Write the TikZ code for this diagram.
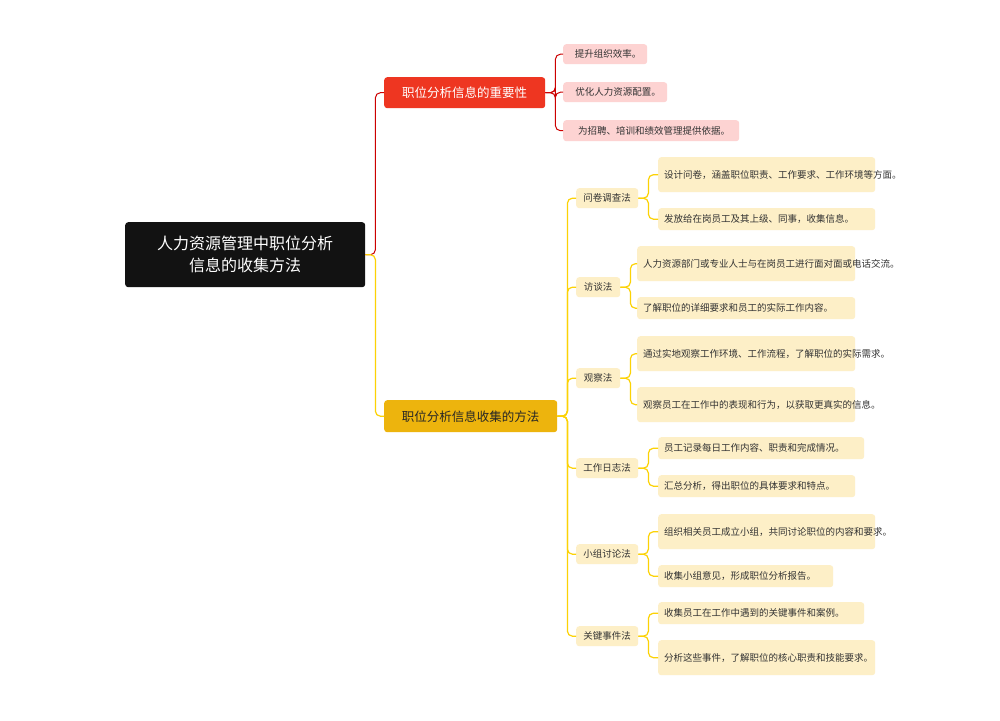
\documentclass[tikz,border=0pt]{standalone}
\usepackage{fontspec}
\setmainfont{Noto Sans CJK SC}
\begin{document}
\begin{tikzpicture}[x=1pt,y=-1pt,
 box/.style={rounded corners=3pt,inner sep=0pt,anchor=north west},
 leaf/.style={box,fill=#1,font=\fontsize{9.5}{12}\selectfont,text=black!80,align=left},
 red/.style={draw=red!80!black,line width=1pt,rounded corners=5pt},
 yel/.style={draw=yellow!70!orange,line width=1.2pt,rounded corners=5pt}]
\definecolor{pk}{HTML}{FDD3D2}
\definecolor{ly}{HTML}{FDEFC7}
\definecolor{my}{HTML}{EDB40D}
\definecolor{rd}{HTML}{EE3621}
\useasboundingbox (0,0) rectangle (1000,720);
\fill[white] (0,0) rectangle (1000,720);
\newcommand{\bx}[6]{\node[#1,minimum width=#4,minimum height=#5] (#2) at #3 {#6};}
\node[box,fill=black!93,text=white,minimum width=240,minimum height=65,align=center,font=\fontsize{16}{22}\selectfont] (root) at (125,222) {人力资源管理中职位分析\\信息的收集方法};
\node[box,fill=rd,text=white,minimum width=161,minimum height=31,font=\fontsize{12.5}{15}\selectfont] (imp) at (384,77) {职位分析信息的重要性};
\node[box,fill=my,text=black!85,minimum width=173,minimum height=32,font=\fontsize{12.5}{15}\selectfont] (met) at (384,400) {职位分析信息收集的方法};
% red leaves
\node[leaf=pk,minimum width=84,minimum height=20] (r1) at (563,44) {\hspace{6pt}提升组织效率。};
\node[leaf=pk,minimum width=104,minimum height=20] (r2) at (563,82) {\hspace{6pt}优化人力资源配置。};
\node[leaf=pk,minimum width=176,minimum height=21] (r3) at (563,120) {\hspace{6pt}为招聘、培训和绩效管理提供依据。};
% level2
\foreach \n/\t/\y/\w in {q/问卷调查法/188/62,f/访谈法/277/44,g/观察法/368/44,w/工作日志法/458/62,x/小组讨论法/544/62,k/关键事件法/626/62}
  \node[leaf=ly,minimum width=\w,minimum height=20,align=center] (\n) at (576,\y) {\t};
% leaves
\newcommand{\lf}[5]{\node[leaf=ly,minimum width=#4,minimum height=#5,inner xsep=6pt,text width=#4-12] (#1) at #2 {#3};}
\lf{q1}{(658,157)}{设计问卷，涵盖职位职责、工作要求、工作环境等方面。}{217}{35}
\lf{q2}{(658,208)}{发放给在岗员工及其上级、同事，收集信息。}{217}{22}
\lf{f1}{(637,246)}{人力资源部门或专业人士与在岗员工进行面对面或电话交流。}{218}{35}
\lf{f2}{(637,297)}{了解职位的详细要求和员工的实际工作内容。}{218}{22}
\lf{g1}{(637,336)}{通过实地观察工作环境、工作流程，了解职位的实际需求。}{218}{35}
\lf{g2}{(637,387)}{观察员工在工作中的表现和行为，以获取更真实的信息。}{218}{35}
\lf{w1}{(658,437)}{员工记录每日工作内容、职责和完成情况。}{206}{22}
\lf{w2}{(658,475)}{汇总分析，得出职位的具体要求和特点。}{197}{22}
\lf{x1}{(658,514)}{组织相关员工成立小组，共同讨论职位的内容和要求。}{217}{35}
\lf{x2}{(658,565)}{收集小组意见，形成职位分析报告。}{175}{22}
\lf{k1}{(658,602)}{收集员工在工作中遇到的关键事件和案例。}{206}{22}
\lf{k2}{(658,640)}{分析这些事件，了解职位的核心职责和技能要求。}{217}{35}
% connectors
\draw[red] (root.east) -- ++(10,0) |- (imp.west);
\draw[yel] (root.east) -- ++(10,0) |- (met.west);
\foreach \c in {r1,r2,r3} \draw[red] (imp.east) -- ++(10,0) |- (\c.west);
\foreach \c in {q,f,g,w,x,k} \draw[yel] (met.east) -- ++(10,0) |- (\c.west);
\foreach \p/\a/\b in {q/q1/q2,f/f1/f2,g/g1/g2,w/w1/w2,x/x1/x2,k/k1/k2}{
  \draw[yel] (\p.east) -- ++(10,0) |- (\a.west);
  \draw[yel] (\p.east) -- ++(10,0) |- (\b.west);}
\end{tikzpicture}
\end{document}
